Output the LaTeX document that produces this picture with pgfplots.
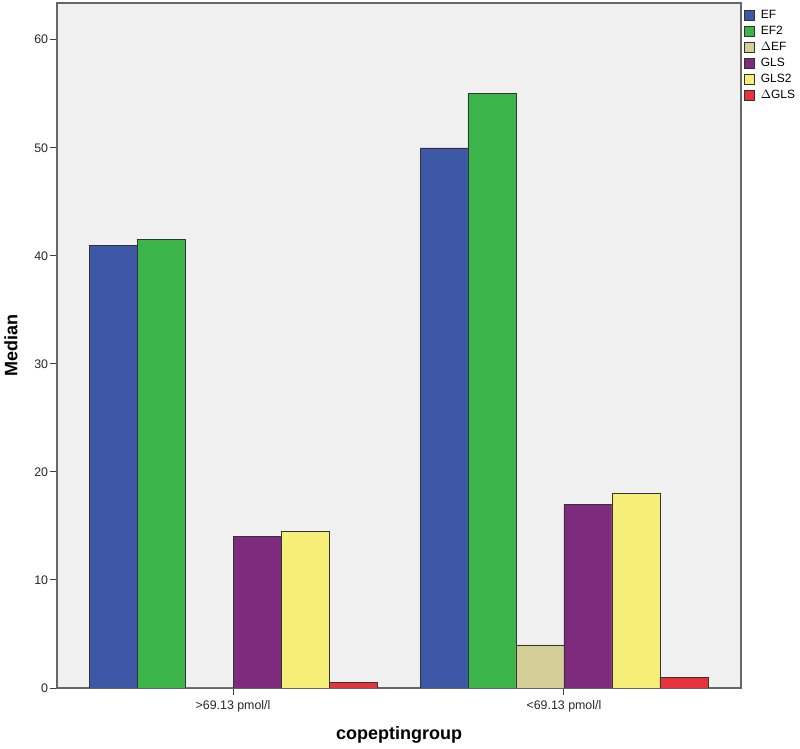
\documentclass[border=0pt]{standalone}
\usepackage{pgfplots}
\pgfplotsset{compat=1.18}
\usepackage{fontspec}
\setmainfont{Liberation Sans}

\definecolor{cEF}{HTML}{3E58A8}
\definecolor{cEFtwo}{HTML}{3BB54A}
\definecolor{cdEF}{HTML}{D4CF96}
\definecolor{cGLS}{HTML}{7E2B7E}
\definecolor{cGLStwo}{HTML}{F5EF78}
\definecolor{cdGLS}{HTML}{E8323A}
\definecolor{bg}{HTML}{F0F0F0}

\begin{document}
\begin{tikzpicture}
\begin{axis}[
    name=ax,
    scale only axis,
    width=513pt,
    height=513.75pt,
    ymin=0, ymax=63.4,
    xmin=-0.532, xmax=1.535,
    ytick={0,10,20,30,40,50,60},
    xtick={0,1},
    xticklabels={>69.13 pmol/l, <69.13 pmol/l},
    tick align=outside,
    xtick pos=bottom,
    ytick pos=left,
    major tick length=5.5pt,
    tick style={black!75, line width=0.7pt},
    axis line style={black!60, line width=1pt},
    axis background/.style={fill=bg},
    ticklabel style={font=\fontsize{9.3}{11}\selectfont, text=black!85},
    yticklabel style={inner xsep=1pt},
    /pgf/number format/assume math mode=true,
    xlabel={\bfseries copeptingroup},
    ylabel={\bfseries Median},
    label style={font=\fontsize{13.5}{15}\selectfont},
    xlabel style={at={(axis description cs:0.5,0)}, anchor=center, yshift=-35pt},
    ylabel style={at={(axis description cs:-0.0672,0.5)}, anchor=center},
    ybar,
    bar width=0.145,
    legend style={at={(axis description cs:1,1)}, anchor=north west,
        draw=none, fill=none, font=\fontsize{9}{10}\selectfont,
        xshift=2.25pt, yshift=-3pt, inner sep=0pt, row sep=0pt,
        nodes={minimum height=12pt, inner xsep=0pt, inner ysep=0pt},
        cells={anchor=west}},
    legend image code/.code={
        \draw[#1, draw=black!80, line width=0.5pt] (0pt,-3.75pt) rectangle (7.5pt,3.75pt);
        \path (12pt,0pt);},
]
\addplot[fill=cEF, draw=black!80, bar shift=-0.3625] coordinates {(0,41) (1,50)};
\addplot[fill=cEFtwo, draw=black!80, bar shift=-0.2175] coordinates {(0,41.5) (1,55)};
\addplot[fill=cdEF, draw=black!80, bar shift=-0.0725] coordinates {(0,0) (1,4)};
\addplot[fill=cGLS, draw=black!80, bar shift=0.0725] coordinates {(0,14) (1,17)};
\addplot[fill=cGLStwo, draw=black!80, bar shift=0.2175] coordinates {(0,14.5) (1,18)};
\addplot[fill=cdGLS, draw=black!80, bar shift=0.3625] coordinates {(0,0.5) (1,1)};
\legend{EF, EF2, $\Delta$EF, GLS, GLS2, $\Delta$GLS}
\end{axis}
\pgfresetboundingbox
\path[use as bounding box] ([xshift=-42.75pt,yshift=-45.75pt]ax.south west) rectangle ([xshift=44.25pt,yshift=2.25pt]ax.north east);
\end{tikzpicture}
\end{document}
